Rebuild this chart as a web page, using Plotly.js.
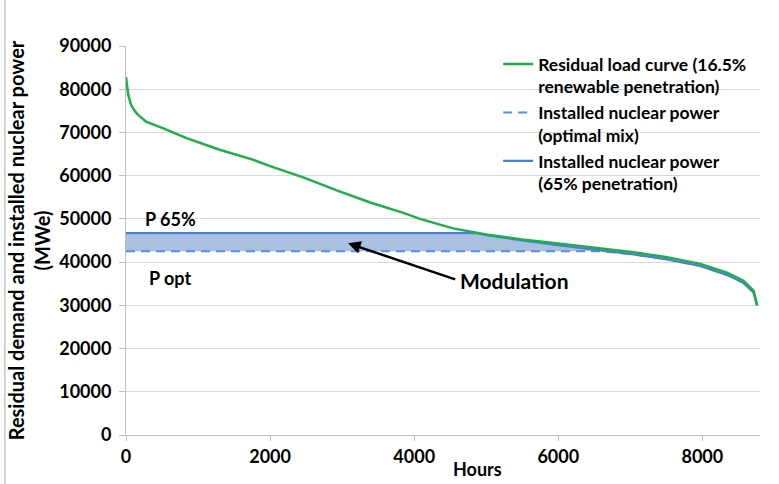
<!DOCTYPE html>
<html>
<head>
<meta charset="utf-8">
<script src="https://cdn.plot.ly/plotly-3.0.1.min.js"></script>
<style>html,body{margin:0;padding:0;background:#fff;}#chart{width:779px;height:484px;}</style>
</head>
<body>
<div id="chart"></div>
<script>
// Residual load duration curve (16.5% renewable penetration)
const loadHours = [0, 15, 30, 70, 120, 165, 280, 400, 510, 840, 1300, 1760, 2000, 2460, 2925, 3390, 3850, 4080, 4540, 5000, 5470, 5935, 6540, 7045, 7510, 7970, 8340, 8570, 8710, 8760];
const loadMW    = [82800, 80500, 78800, 76400, 75000, 74100, 72500, 71700, 71000, 68700, 66000, 63700, 62200, 59600, 56600, 53800, 51400, 50000, 47800, 46400, 45300, 44400, 43300, 42300, 41150, 39600, 37560, 35700, 33400, 30000];

// Installed nuclear power, 65% penetration
const p65Hours = [0, 4870, 5000, 5470, 5935, 6540, 6600, 7045, 7510, 7970, 8340, 8570, 8710, 8760];
const p65MW    = [46700, 46700, 46250, 45050, 44050, 42850, 42700, 41800, 40650, 39100, 37050, 35200, 33000, 30000];

// Installed nuclear power, optimal mix
const optHours = [0, 6600, 7045, 7510, 7970, 8340, 8570, 8710, 8760];
const optMW    = [42500, 42500, 41800, 40650, 39100, 37050, 35200, 33000, 30000];

const xTicks = [0, 2000, 4000, 6000, 8000];
const names = {
  load: "Residual load curve (16.5%<br>renewable penetration)",
  opt: "Installed nuclear power<br>(optimal mix)",
  p65: "Installed nuclear power<br>(65% penetration)"
};

const FONT = "Lato, 'Liberation Sans', sans-serif";
const GREEN = "#1fae4b";
const BLUE = "#4a80d2";
const BLUE_D = "#5a90da";

const data = [
  {x: optHours, y: optMW, type: "scatter", mode: "lines", line: {width: 0}, showlegend: false, hoverinfo: "skip"},
  {x: p65Hours, y: p65MW, type: "scatter", mode: "lines", line: {width: 0}, fill: "tonexty", fillcolor: "#a9c0e3", showlegend: false, hoverinfo: "skip"},
  {x: optHours, y: optMW, type: "scatter", mode: "lines", name: names.opt, legendrank: 2, line: {color: BLUE_D, width: 2, dash: "9px,6px"}},
  {x: p65Hours, y: p65MW, type: "scatter", mode: "lines", name: names.p65, legendrank: 3, line: {color: BLUE, width: 2.2}},
  {x: loadHours, y: loadMW, type: "scatter", mode: "lines", name: names.load, legendrank: 1, line: {color: GREEN, width: 2.5}}
];

const tf = {family: FONT, size: 18, color: "#000", weight: "bold"};

const layout = {
  width: 779, height: 484,
  margin: {l: 126, r: 19, t: 46, b: 49},
  paper_bgcolor: "#fff", plot_bgcolor: "#fff",
  font: tf,
  showlegend: true,
  legend: {x: 0.587, y: 1.0, xanchor: "left", yanchor: "top", bgcolor: "rgba(0,0,0,0)", valign: "top",
           font: {family: FONT, size: 17.5, color: "#000", weight: "bold"}, traceorder: "normal"},
  xaxis: {range: [0, 8800], tickvals: xTicks, ticktext: xTicks.map(String), showgrid: false, zeroline: false,
          showline: true, linecolor: "#bfbfbf", linewidth: 1, ticks: "outside", ticklen: 5, tickcolor: "#bfbfbf",
          tickfont: tf},
  yaxis: {range: [0, 90000], dtick: 10000, tick0: 0, tickformat: "d", showgrid: true, gridcolor: "#d9d9d9", gridwidth: 1, zeroline: false,
          showline: true, linecolor: "#bfbfbf", linewidth: 1, ticks: "outside", ticklen: 6, tickcolor: "#bfbfbf",
          ticklabelstandoff: 4, automargin: false,
          tickfont: tf,
          title: {text: "Residual demand and installed nuclear power<br>(MWe)", standoff: 3,
                  font: {family: FONT, size: 20, color: "#000", weight: "bold"}}},
  shapes: [
    {type: "line", xref: "paper", yref: "paper", x0: -0.191, x1: -0.191, y0: -0.13, y1: 1.12, line: {color: "#c8c8c8", width: 1.5}}
  ],
  annotations: [
    {xref: "paper", yref: "paper", x: 0.555, y: -0.087, text: "Hours", showarrow: false, xanchor: "center", yanchor: "middle", font: tf},
    {xref: "x", yref: "y", x: 235, y: 50000, text: "P 65%", showarrow: false, xanchor: "left", yanchor: "middle", font: tf},
    {xref: "x", yref: "y", x: 285, y: 36300, text: "P opt", showarrow: false, xanchor: "left", yanchor: "middle", font: tf},
    {xref: "x", yref: "y", x: 5387, y: 35700, text: "Modulation", showarrow: false, xanchor: "center", yanchor: "middle",
     font: {family: FONT, size: 21, color: "#000", weight: "bold"}},
    {xref: "x", yref: "y", axref: "x", ayref: "y", x: 3083, y: 44350, ax: 4590, ay: 35900, text: "", showarrow: true,
     arrowhead: 2, arrowsize: 1, arrowwidth: 2.5, arrowcolor: "#000", standoff: 0, startstandoff: 0}
  ]
};

Plotly.newPlot("chart", data, layout, {displayModeBar: false, staticPlot: true});
</script>
</body>
</html>
